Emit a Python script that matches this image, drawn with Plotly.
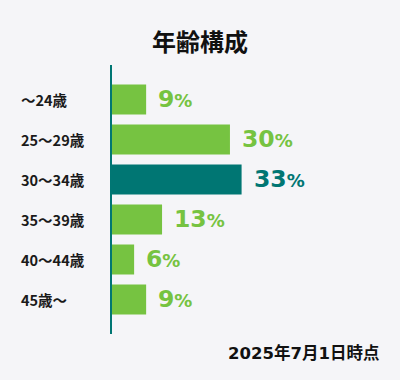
import plotly.graph_objects as go

categories = ["～24歳", "25～29歳", "30～34歳", "35～39歳", "40～44歳", "45歳～"]
values = [8.8, 30.4, 33.4, 12.9, 5.7, 8.8]
labels = ["9", "30", "33", "13", "6", "9"]
highlight = "30～34歳"

GREEN = "#76c341"
TEAL = "#007673"
BG = "#f5f5f8"
JP = "Noto Sans CJK JP"
NUM = "DejaVu Sans, Noto Sans CJK JP"

colors = [TEAL if c == highlight else GREEN for c in categories]

fig = go.Figure(go.Bar(
    x=values, y=categories, orientation="h",
    marker=dict(color=colors, line=dict(width=0)),
    hoverinfo="skip",
))

ML, MR, MT, MB = 112, 0, 65, 46
PW = 400 - ML - MR

ann = []
for c, v, l, col in zip(categories, values, labels, colors):
    ann.append(dict(
        x=v, y=c, xref="x", yref="y", xanchor="left", yanchor="middle",
        xshift=10, yshift=1, showarrow=False,
        text=f"<b>{l}<span style='font-size:18px'>%</span></b>",
        font=dict(family=NUM, size=23.5, color=col),
    ))
    ann.append(dict(
        x=(19 - ML) / PW, y=c, xref="paper", yref="y",
        xanchor="left", yanchor="middle", showarrow=False,
        text=f"<b>{c}</b>",
        font=dict(family=JP, size=14.5, color="#1a1a1a"),
    ))

ann.append(dict(
    x=(381 - ML) / PW, y=(334 - 353) / (380 - MT - MB), xref="paper", yref="paper",
    xanchor="right", yanchor="middle", showarrow=False,
    text="<b>2025年7月1日時点</b>",
    font=dict(family=NUM, size=16.5, color="#111111"),
))

fig.update_layout(
    width=400, height=380,
    margin=dict(l=ML, r=MR, t=MT, b=MB, pad=0),
    paper_bgcolor=BG, plot_bgcolor=BG,
    showlegend=False,
    bargap=0.25,
    title=dict(text="<b>年齢構成</b>", x=0.5, xref="container", xanchor="center",
               y=1 - 42.5 / 380, yref="container", yanchor="middle",
               font=dict(family=JP, size=24, color="#111111")),
    xaxis=dict(visible=False, range=[0, PW / 3.88], showgrid=False, zeroline=False),
    yaxis=dict(type="category", range=[5.8625, -0.8625], showticklabels=False,
               showgrid=False, zeroline=False, showline=True, linewidth=2,
               linecolor=TEAL, ticks=""),
    annotations=ann,
)

fig.write_html(
    "out.html",
    config={"displayModeBar": False},
    post_script="document.body.style.margin='0';document.body.style.background='#f5f5f8';",
)
